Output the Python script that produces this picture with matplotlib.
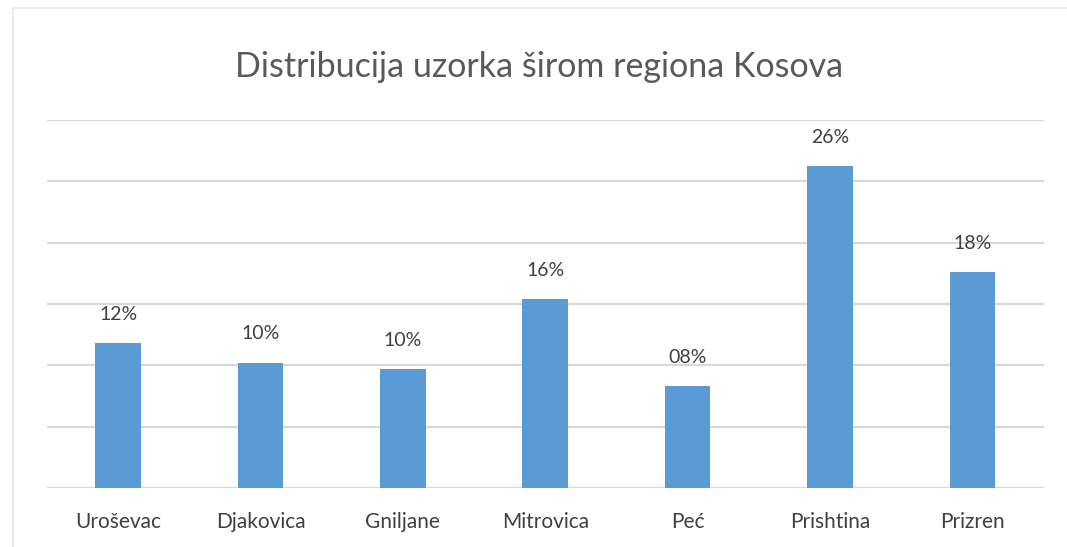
import matplotlib.pyplot as plt
from matplotlib.patches import Rectangle

# values (percent)
regions = ["Uroševac", "Djakovica", "Gniljane", "Mitrovica", "Peć", "Prishtina", "Prizren"]
shares = [11.8, 10.2, 9.7, 15.4, 8.3, 26.2, 17.6]
labels = ["12%", "10%", "10%", "16%", "08%", "26%", "18%"]
yticks = [0, 5, 10, 15, 20, 25, 30]

plt.rcParams['font.family'] = ['Lato', 'DejaVu Sans']

fig = plt.figure(figsize=(10.67, 5.47), dpi=100)
ax = fig.add_axes([0.044, 0.108, 0.934, 0.673])

# faint chart frame
fig.patches.append(Rectangle((0.012, -0.01), 0.99, 0.995, transform=fig.transFigure,
                             fill=False, edgecolor='#e6e6e6', lw=1.2))

x = range(len(regions))
ax.bar(x, shares, width=0.32, color='#5b9bd5', zorder=3)
for i, (v, t) in enumerate(zip(shares, labels)):
    ax.text(i, v + 2.35, t, ha='center', va='center', fontsize=14, color='#404040')

ax.set_xlim(-0.5, len(regions) - 0.5)
ax.set_ylim(0, 30)
ax.set_yticks(yticks)
ax.set_yticklabels([])
ax.yaxis.grid(True, color='#d9d9d9', lw=1.6, zorder=0)
ax.tick_params(axis='both', length=0)
ax.set_xticks(list(x))
ax.set_xticklabels(regions, fontsize=15, color='#404040')
ax.tick_params(axis='x', pad=17)
for s in ax.spines.values():
    s.set_visible(False)

fig.text(0.505, 0.878, "Distribucija uzorka širom regiona Kosova", ha='center', va='center',
         fontsize=24.5, color='#595959')

fig.savefig("out.png", dpi=100)
